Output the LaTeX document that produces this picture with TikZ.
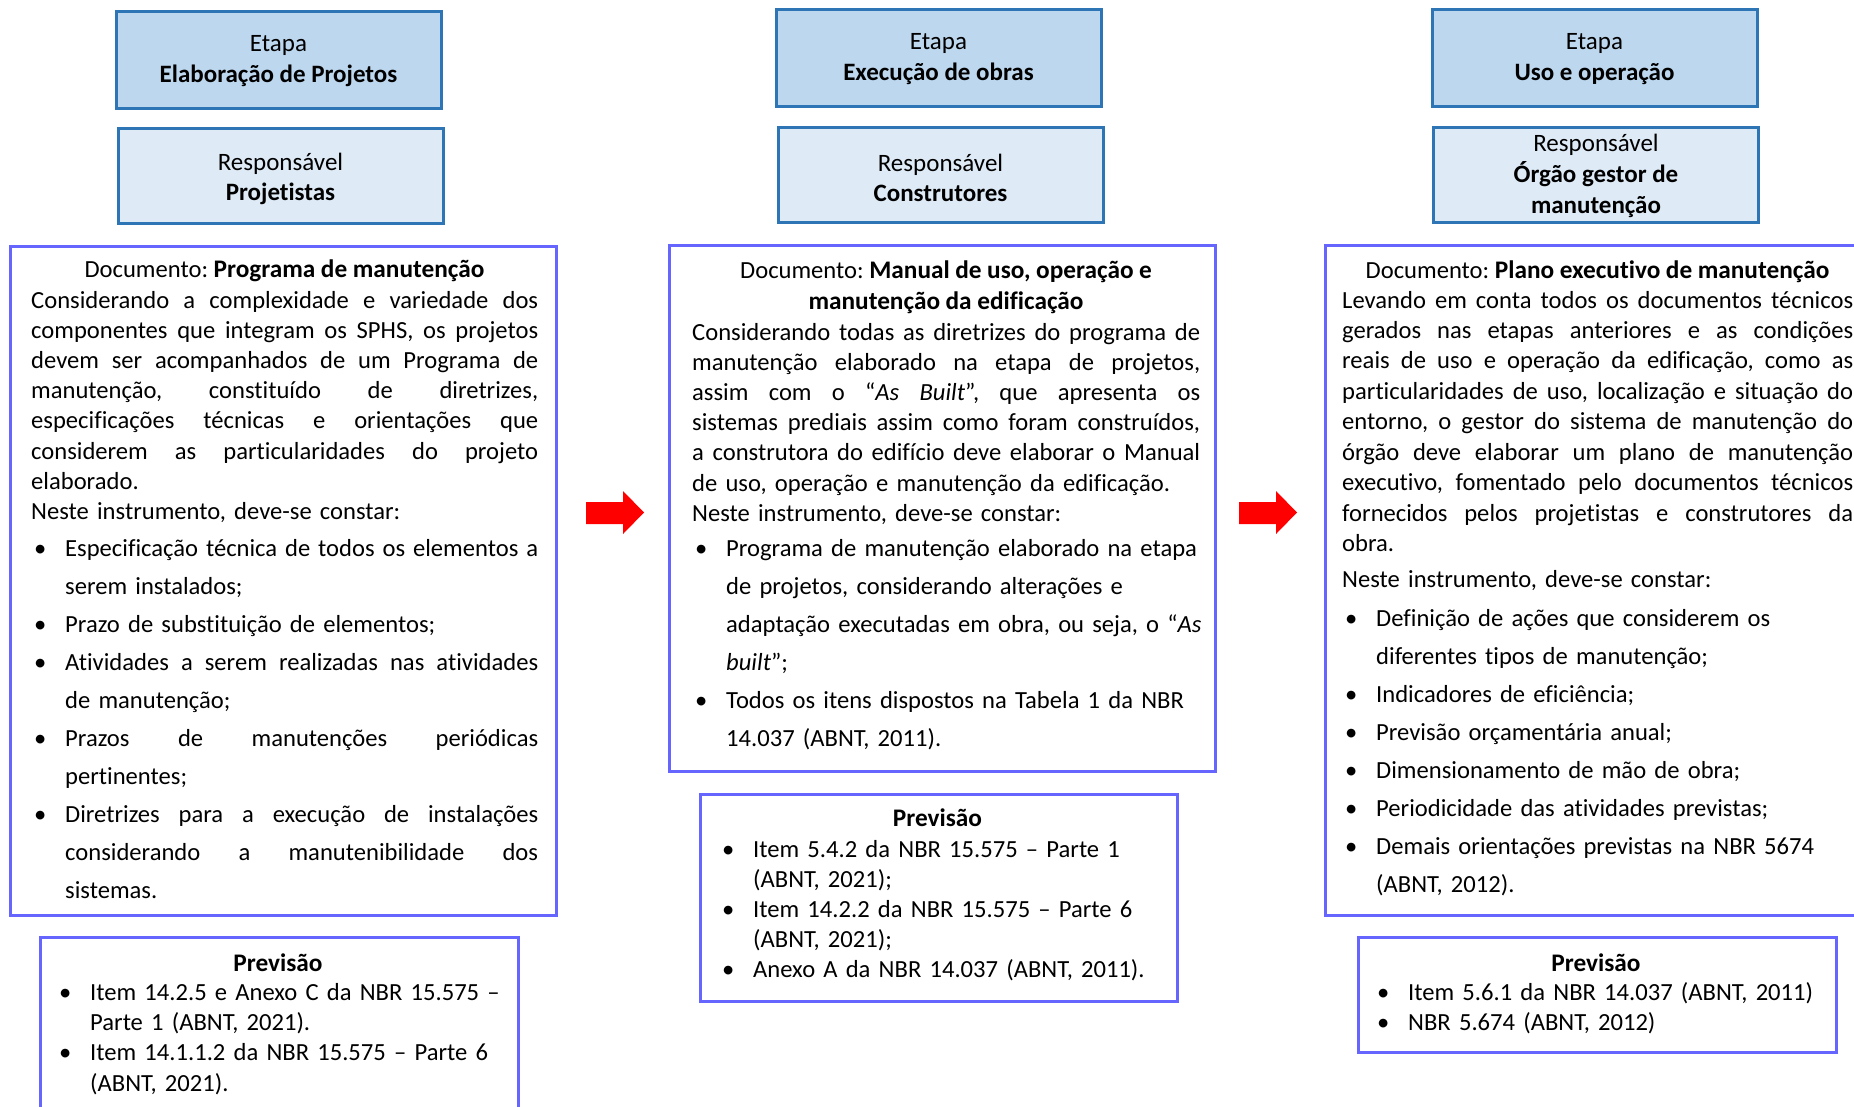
\documentclass[tikz,border=0pt]{standalone}
\usepackage{fontspec}
\setmainfont{Carlito}[Ligatures={TeX,NoCommon}]
\definecolor{etapafill}{HTML}{BDD7EE}
\definecolor{respfill}{HTML}{DEEBF7}
\definecolor{boxblue}{HTML}{2E75B6}
\definecolor{docline}{HTML}{6666FF}
\definecolor{arrowred}{HTML}{FF0000}
\newcommand\wordsp{\spaceskip=0.226em plus 0.113em minus 0.075em\relax\xspaceskip=\spaceskip\frenchspacing}
\newcommand\jline[1]{\leavevmode\hbox to\hsize{\spaceskip=0.226em plus 1fil minus 0.08em\relax\xspaceskip=\spaceskip #1}\par}
\newcommand\lline[1]{\mbox{#1}\par}
\newcommand\bul{\leavevmode\llap{\makebox[31pt][l]{•}}}
\newcommand\tb[1]{{\fontsize{25.3}{30.2}\selectfont\bfseries #1}}
\tikzset{
  basefont/.style={font=\fontsize{24.6}{30.2}\selectfont\wordsp, text=black},
  listfont/.style={font=\fontsize{24.6}{38.1}\selectfont\wordsp, text=black},
  etapabox/.style={draw=boxblue, fill=etapafill, line width=3pt, inner sep=0pt, minimum width=325, minimum height=97},
  respbox/.style={draw=boxblue, fill=respfill, line width=3pt, inner sep=0pt, minimum width=325, minimum height=95},
  boxtext/.style={font=\fontsize{25}{30.7}\selectfont\wordsp, text=black, align=center, inner sep=0pt},
  docbox/.style={draw=docline, line width=3pt, inner sep=0pt, anchor=north west},
  paratext/.style={basefont, inner sep=0pt, anchor=base west},
  listtext/.style={listfont, inner sep=0pt, anchor=base west},
  titletext/.style={basefont, inner sep=0pt, anchor=base},
  redarrow/.style={fill=arrowred, draw=none}
}
\begin{document}
\begin{tikzpicture}[x=1pt,y=1pt]
\fill[white] (0,0) rectangle (1854,-1106);
\useasboundingbox (0,0) rectangle (1854,-1106);

% ---------- top boxes ----------
\node[etapabox] (e1) at (278.5,-59.5) {};
\node[boxtext, yshift=-1.5] (e1t) at (e1.center) {Etapa\\\textbf{Elaboração de Projetos}};
\node[respbox]  (r1) at (280.5,-175.5) {};
\node[boxtext, yshift=-3.5] (r1t) at (r1.center) {Responsável\\\textbf{Projetistas}};
\node[etapabox] (e2) at (938.5,-57.5) {};
\node[boxtext, yshift=-1.5] (e2t) at (e2.center) {Etapa\\\textbf{Execução de obras}};
\node[respbox]  (r2) at (940.5,-174.5) {};
\node[boxtext, yshift=-3.5] (r2t) at (r2.center) {Responsável\\\textbf{Construtores}};
\node[etapabox] (e3) at (1594.5,-57.5) {};
\node[boxtext, yshift=-1.5] (e3t) at (e3.center) {Etapa\\\textbf{Uso e operação}};
\node[respbox]  (r3) at (1596,-174.5) {};
\node[boxtext, yshift=-1.5] (r3t) at (r3.center) {Responsável\\\textbf{Órgão gestor de}\\\textbf{manutenção}};

% ---------- document boxes ----------
\node[docbox, minimum width=546, minimum height=669] (d1) at (9,-245) {};
\node[docbox, minimum width=546, minimum height=526] (d2) at (668,-244) {};
\node[docbox, minimum width=556, minimum height=670] (d3) at (1324,-244) {};

% column 1 text
\node[titletext] (d1title) at (284.5,-277) {Documento: \tb{Programa de manutenção}};
\node[paratext, text width=507] (d1body) at (31,-308) {%
\jline{Considerando a complexidade e variedade dos}
\jline{componentes que integram os SPHS, os projetos}
\jline{devem ser acompanhados de um Programa de}
\jline{manutenção, constituído de diretrizes,}
\jline{especificações técnicas e orientações que}
\jline{considerem as particularidades do projeto}
\lline{elaborado.}
\lline{Neste instrumento, deve-se constar:}};
\node[listtext, text width=473] (d1list) at (65,-556) {%
\bul\jline{Especificação técnica de todos os elementos a}
\lline{serem instalados;}
\bul\lline{Prazo de substituição de elementos;}
\bul\jline{Atividades a serem realizadas nas atividades}
\lline{de manutenção;}
\bul\jline{Prazos de manutenções periódicas}
\lline{pertinentes;}
\bul\jline{Diretrizes para a execução de instalações}
\jline{considerando a manutenibilidade dos}
\lline{sistemas.}};

% column 2 text
\node[titletext] (d2title) at (946,-278) {Documento: \tb{Manual de uso, operação e}};
\node[titletext] (d2title2) at (946,-309) {\tb{manutenção da edificação}};
\node[paratext, text width=508] (d2body) at (692,-340) {%
\jline{Considerando todas as diretrizes do programa de}
\jline{manutenção elaborado na etapa de projetos,}
\jline{assim com o “\textit{As Built}”, que apresenta os}
\jline{sistemas prediais assim como foram construídos,}
\jline{a construtora do edifício deve elaborar o Manual}
\lline{de uso, operação e manutenção da edificação.}
\lline{Neste instrumento, deve-se constar:}};
\node[listtext, text width=474] (d2list) at (726,-556) {%
\bul\lline{Programa de manutenção elaborado na etapa}
\lline{de projetos, considerando alterações e}
\lline{adaptação executadas em obra, ou seja, o “\textit{As}}
\lline{\textit{built}”;}
\bul\lline{Todos os itens dispostos na Tabela 1 da NBR}
\lline{14.037 (ABNT, 2011).}};

% column 3 text
\node[titletext] (d3title) at (1597.5,-278) {Documento: \tb{Plano executivo de manutenção}};
\node[paratext, text width=511, font=\fontsize{24.6}{30.45}\selectfont\wordsp] (d3body) at (1342,-308) {%
\jline{Levando em conta todos os documentos técnicos}
\jline{gerados nas etapas anteriores e as condições}
\jline{reais de uso e operação da edificação, como as}
\jline{particularidades de uso, localização e situação do}
\jline{entorno, o gestor do sistema de manutenção do}
\jline{órgão deve elaborar um plano de manutenção}
\jline{executivo, fomentado pelo documentos técnicos}
\jline{fornecidos pelos projetistas e construtores da}
\lline{obra.}
\vspace{5pt}
\lline{Neste instrumento, deve-se constar:}};
\node[listtext, text width=477] (d3list) at (1376,-626) {%
\bul\lline{Definição de ações que considerem os}
\lline{diferentes tipos de manutenção;}
\bul\lline{Indicadores de eficiência;}
\bul\lline{Previsão orçamentária anual;}
\bul\lline{Dimensionamento de mão de obra;}
\bul\lline{Periodicidade das atividades previstas;}
\bul\lline{Demais orientações previstas na NBR 5674}
\lline{(ABNT, 2012).}};

% ---------- Previsão boxes ----------
\node[docbox, minimum width=478, minimum height=190] (p1) at (39,-936) {};
\node[docbox, minimum width=477, minimum height=207] (p2) at (699,-793) {};
\node[docbox, minimum width=478, minimum height=115] (p3) at (1357,-936) {};

\node[titletext] (p1title) at (278,-971) {\tb{Previsão}};
\node[paratext, text width=425] (p1list) at (90,-1000.5) {%
\bul\lline{Item 14.2.5 e Anexo C da NBR 15.575 –}
\lline{Parte 1 (ABNT, 2021).}
\bul\lline{Item 14.1.1.2 da NBR 15.575 – Parte 6}
\lline{(ABNT, 2021).}};

\node[titletext] (p2title) at (937.5,-826) {\tb{Previsão}};
\node[paratext, text width=420] (p2list) at (753,-857) {%
\bul\lline{Item 5.4.2 da NBR 15.575 – Parte 1}
\lline{(ABNT, 2021);}
\bul\lline{Item 14.2.2 da NBR 15.575 – Parte 6}
\lline{(ABNT, 2021);}
\bul\lline{Anexo A da NBR 14.037 (ABNT, 2011).}};

\node[titletext] (p3title) at (1596,-971) {\tb{Previsão}};
\node[paratext, text width=425] (p3list) at (1408,-1000.5) {%
\bul\lline{Item 5.6.1 da NBR 14.037 (ABNT, 2011)}
\bul\lline{NBR 5.674 (ABNT, 2012)}};

% ---------- red block arrows ----------
\fill[redarrow] (586,-502) -- (623,-502) -- (623,-491) -- (644,-512.5) -- (623,-534) -- (623,-524) -- (586,-524) -- cycle;
\fill[redarrow] (1239,-502) -- (1276,-502) -- (1276,-491) -- (1297,-512.5) -- (1276,-534) -- (1276,-524) -- (1239,-524) -- cycle;
\end{tikzpicture}
\end{document}
